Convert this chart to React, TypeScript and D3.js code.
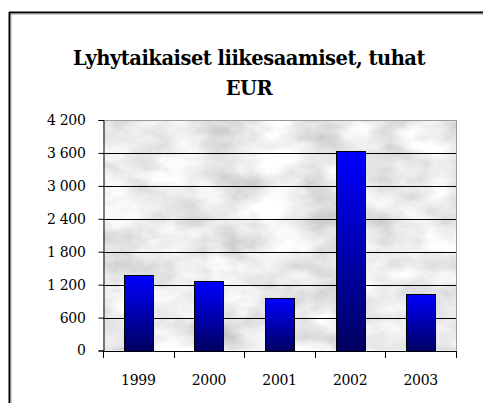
import { useRef, useEffect } from 'react';
import * as d3 from 'd3';

const years = ['1999', '2000', '2001', '2002', '2003'];
const values = [1370, 1265, 955, 3630, 1035];
const yTicks = [0, 600, 1200, 1800, 2400, 3000, 3600, 4200];
const titleLines = ['Lyhytaikaiset liikesaamiset, tuhat', 'EUR'];

const W = 483;
const H = 403;

const App: React.FC = () => {
  const svgRef = useRef<SVGSVGElement | null>(null);

  useEffect(() => {
    const svg = d3.select(svgRef.current);
    svg.selectAll('*').remove();

    const font = 'DejaVu Serif, serif';
    const plot = { left: 103, right: 456, top: 120, bottom: 350.5 };

    const x = d3.scaleBand<string>()
      .domain(years)
      .range([plot.left, plot.right])
      .paddingInner(0.59)
      .paddingOuter(0.295);

    const y = d3.scaleLinear()
      .domain([0, 4200])
      .range([plot.bottom, plot.top]);

    const fmt = d3.formatLocale({ decimal: ',', thousands: ' ', grouping: [3], currency: ['', ''] }).format(',');

    const defs = svg.append('defs');
    const grad = defs.append('linearGradient')
      .attr('id', 'barGrad')
      .attr('x1', 0).attr('y1', 0).attr('x2', 0).attr('y2', 1);
    grad.append('stop').attr('offset', '0%').attr('stop-color', '#0000ff');
    grad.append('stop').attr('offset', '100%').attr('stop-color', '#000060');

    const filter = defs.append('filter')
      .attr('id', 'marble')
      .attr('x', 0).attr('y', 0).attr('width', 1).attr('height', 1);
    filter.append('feTurbulence')
      .attr('type', 'fractalNoise')
      .attr('baseFrequency', '0.02 0.035')
      .attr('numOctaves', 5)
      .attr('seed', 7)
      .attr('result', 'noise');
    filter.append('feColorMatrix')
      .attr('in', 'noise')
      .attr('type', 'matrix')
      .attr('values', '0.5 0.5 0 0 0.33  0.5 0.5 0 0 0.33  0.5 0.5 0 0 0.35  0 0 0 0 1')
      .attr('result', 'gray');
    filter.append('feComposite')
      .attr('in', 'gray')
      .attr('in2', 'SourceGraphic')
      .attr('operator', 'in');

    // outer frame (top and left only)
    svg.append('line')
      .attr('x1', 9).attr('x2', W).attr('y1', 12.5).attr('y2', 12.5)
      .attr('stroke', '#000').attr('stroke-width', 2);
    svg.append('line')
      .attr('x1', 10).attr('x2', W).attr('y1', 14).attr('y2', 14)
      .attr('stroke', '#999').attr('stroke-width', 1);
    svg.append('line')
      .attr('x1', 9.5).attr('x2', 9.5).attr('y1', 12).attr('y2', H)
      .attr('stroke', '#000').attr('stroke-width', 2);
    svg.append('line')
      .attr('x1', 11).attr('x2', 11).attr('y1', 14).attr('y2', H)
      .attr('stroke', '#999').attr('stroke-width', 1);

    // title
    svg.append('g')
      .selectAll('text')
      .data(titleLines)
      .enter()
      .append('text')
      .attr('x', 249)
      .attr('y', (_, i) => 65 + i * 30)
      .attr('text-anchor', 'middle')
      .attr('font-family', font)
      .attr('font-weight', 'bold')
      .attr('font-size', 19.5)
      .attr('letter-spacing', -0.5)
      .text(d => d);

    // plot background
    svg.append('rect')
      .attr('x', plot.left).attr('y', plot.top)
      .attr('width', plot.right - plot.left).attr('height', plot.bottom - plot.top)
      .attr('fill', '#ddd')
      .attr('filter', 'url(#marble)');
    svg.append('path')
      .attr('d', `M${plot.left},${plot.top + 0.5}H${plot.right + 0.5}V${plot.bottom}`)
      .attr('fill', 'none')
      .attr('stroke', '#999');

    // gridlines
    svg.append('g')
      .selectAll('line')
      .data(yTicks.filter(t => t > 0 && t < 4200))
      .enter()
      .append('line')
      .attr('x1', plot.left).attr('x2', plot.right)
      .attr('y1', d => Math.round(y(d)) + 0.5).attr('y2', d => Math.round(y(d)) + 0.5)
      .attr('stroke', '#000');

    // bars
    svg.append('g')
      .selectAll('rect')
      .data(values)
      .enter()
      .append('rect')
      .attr('x', (_, i) => Math.round(x(years[i]) as number) + 0.5)
      .attr('y', d => Math.round(y(d)) + 0.5)
      .attr('width', Math.round(x.bandwidth()))
      .attr('height', d => Math.round(y(0)) - Math.round(y(d)))
      .attr('fill', 'url(#barGrad)')
      .attr('stroke', '#000');

    // y axis
    const yAxis = svg.append('g')
      .attr('transform', `translate(${plot.left + 0.5},0)`)
      .call(d3.axisLeft(y).tickValues(yTicks).tickFormat(d => fmt(d as number)).tickSize(5).tickPadding(13));
    yAxis.attr('font-family', font).attr('font-size', 14);
    yAxis.select('.domain').attr('stroke', '#000');
    yAxis.selectAll('text').attr('fill', '#000').attr('letter-spacing', -0.3);

    // x axis
    const xTickPos = [plot.left, ...years.map(yr => (x(yr) as number) + x.bandwidth() / 2 + x.step() / 2)];
    svg.append('line')
      .attr('x1', plot.left).attr('x2', plot.right + 1)
      .attr('y1', Math.round(plot.bottom) + 0.5).attr('y2', Math.round(plot.bottom) + 0.5)
      .attr('stroke', '#000');
    svg.append('g')
      .selectAll('line')
      .data(xTickPos)
      .enter()
      .append('line')
      .attr('x1', d => Math.round(d) + 0.5).attr('x2', d => Math.round(d) + 0.5)
      .attr('y1', Math.round(plot.bottom)).attr('y2', Math.round(plot.bottom) + 7)
      .attr('stroke', '#000');
    svg.append('g')
      .selectAll('text')
      .data(years)
      .enter()
      .append('text')
      .attr('x', d => (x(d) as number) + x.bandwidth() / 2)
      .attr('y', 385)
      .attr('text-anchor', 'middle')
      .attr('font-family', font)
      .attr('font-size', 14)
      .attr('letter-spacing', -0.3)
      .text(d => d);
  }, []);

  return (
    <svg
      ref={svgRef}
      width={W}
      height={H}
      style={{ position: 'absolute', left: 0, top: 0, background: '#fff' }}
    ></svg>
  );
};

export default App;
